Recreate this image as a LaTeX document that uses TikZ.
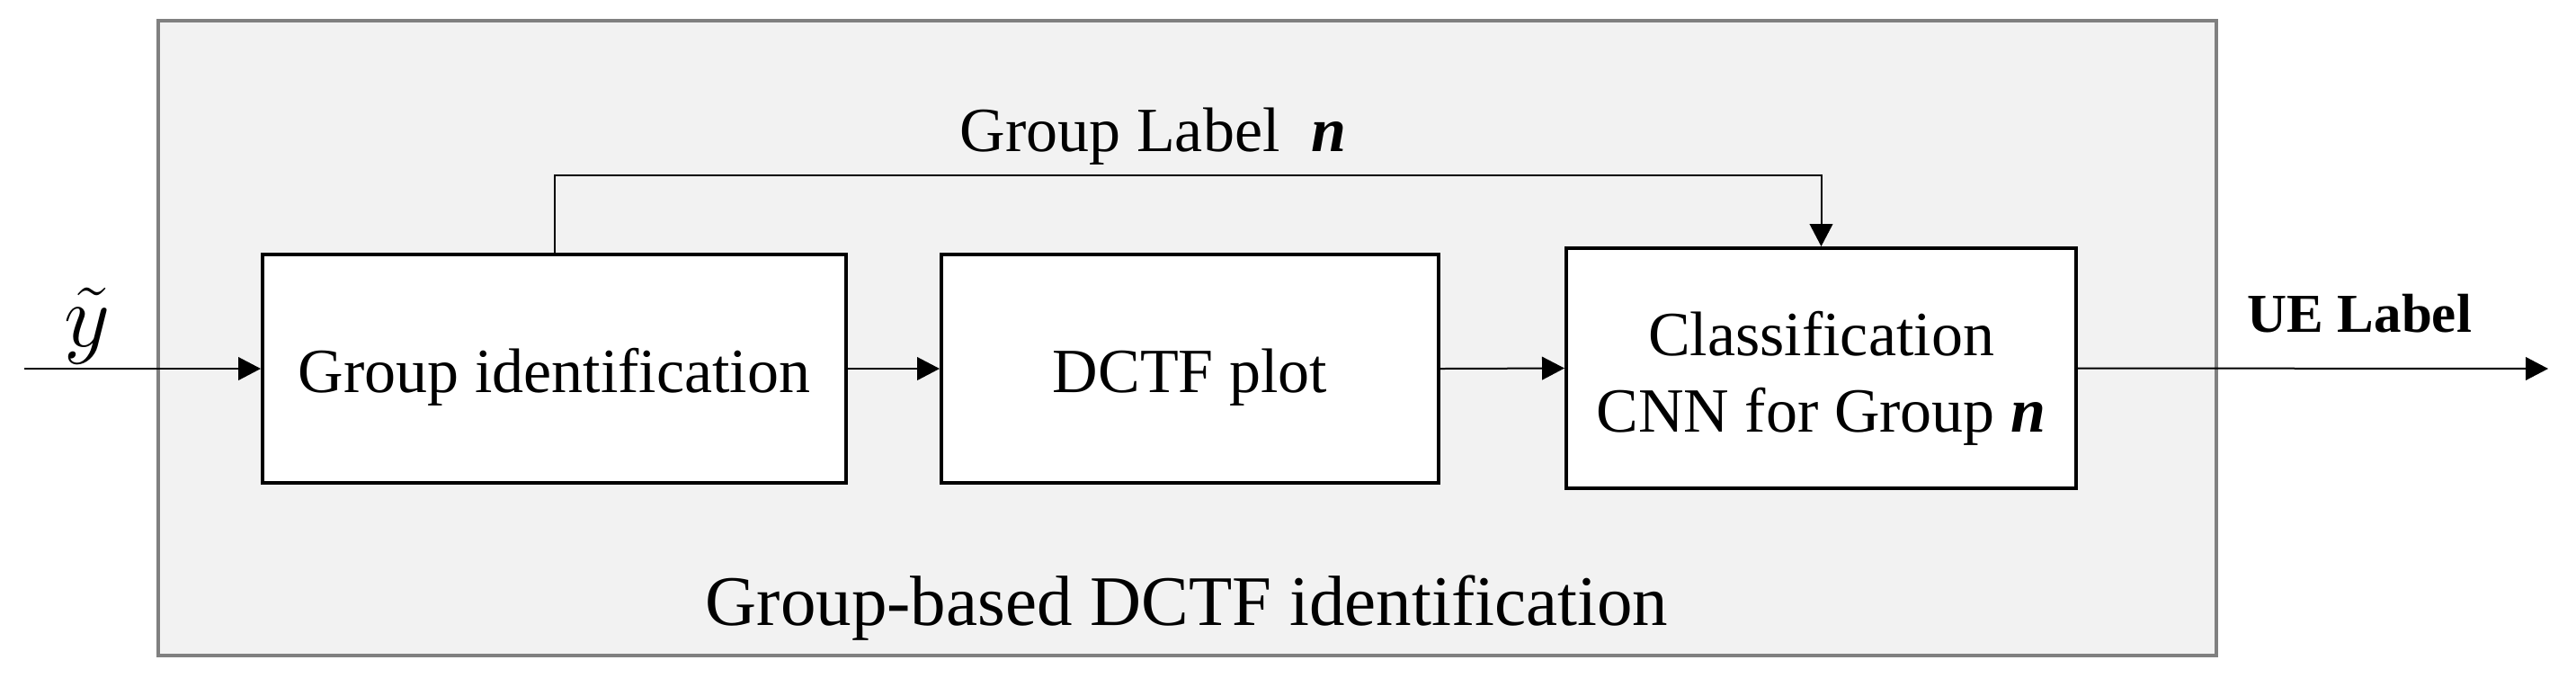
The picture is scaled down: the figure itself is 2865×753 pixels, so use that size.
\documentclass[tikz,border=0pt]{standalone}
\usepackage{fontspec}
\setmainfont{Liberation Serif}
\usetikzlibrary{arrows.meta,calc}
\newcommand{\dropbox}[2]{\raisebox{-#1}[\height][\depth]{#2}}
\begin{document}
\begin{tikzpicture}[x=0.25pt,y=-0.25pt,
  blk/.style={draw=black,line width=1pt,fill=white,inner sep=0pt,align=center,font=\fontsize{17.5}{21.25}\selectfont},
  arr/.style={line width=0.5pt,-{Triangle[length=6.25pt,width=6.4pt]}},
  outer/.style={draw=black!50,line width=1.1pt,fill=black!5}]
\useasboundingbox (0,0) rectangle (2865,753);
\draw[outer] (176,23) rectangle (2465,729);
\node[blk,minimum width=162.25pt,minimum height=63.5pt] (b1) at (616.5,410) {\dropbox{2.3pt}{Group identification}};
\node[blk,minimum width=138.25pt,minimum height=63.5pt] (b2) at (1323.5,410) {\dropbox{2.3pt}{DCTF plot}};
\node[blk,minimum width=141.75pt,minimum height=66.75pt] (b3) at (2025.5,409.5) {\dropbox{2.75pt}{\begin{tabular}{@{}c@{}}Classification\\CNN for Group \textbf{\textit{n}}\end{tabular}}};
\coordinate (in) at (27,410);
\coordinate (out) at (2834,410);
\node[anchor=base,font=\fontsize{24.5}{28}\selectfont,inner sep=0pt] (yt) at (97,385) {$\tilde{y}$};
\node[anchor=base west,font=\fontsize{17.5}{21}\selectfont,inner sep=0pt] (gl) at (1067,168) {Group Label~~\textbf{\textit{n}}};
\node[anchor=base west,font=\fontsize{15.25}{18}\selectfont\bfseries,inner sep=0pt] (ue) at (2499,369) {UE Label};
\node[anchor=base,font=\fontsize{19.75}{24}\selectfont,inner sep=0pt] (cap) at (1320,695) {Group-based DCTF identification};
\draw[arr] (in) -- (b1.west);
\draw[arr] (b1.east) -- (b2.west);
\draw[arr] (b2.east) -- (b3.west);
\draw[arr] (b3.east) -- (out);
\draw[arr] (b1.north) -- ++(0,-86) -| (b3.north);
\end{tikzpicture}
\end{document}
